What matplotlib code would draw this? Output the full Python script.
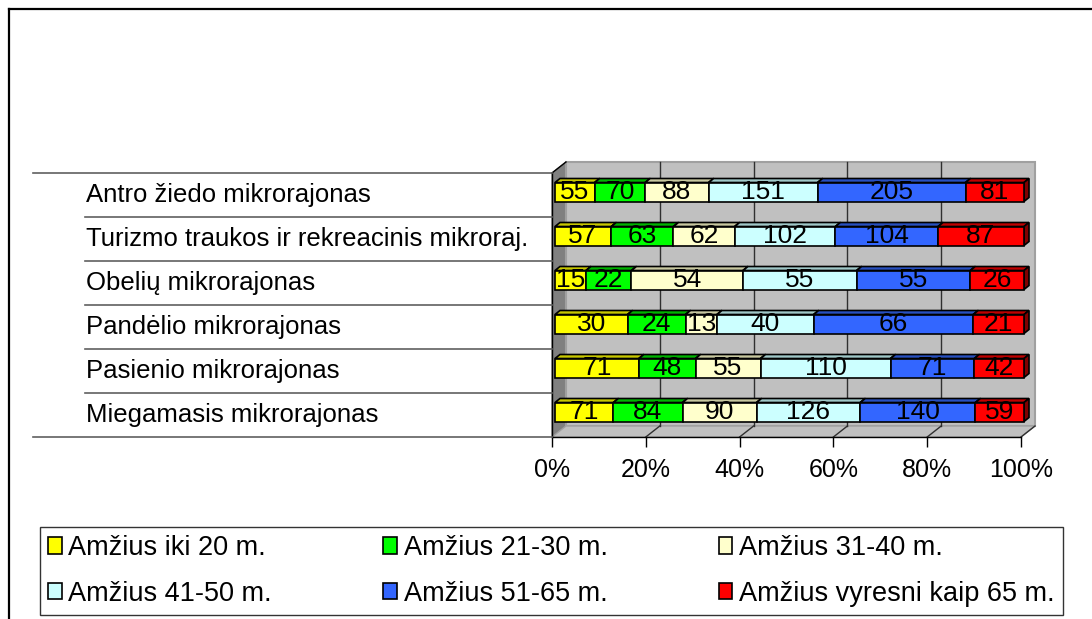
import numpy as np
import matplotlib
matplotlib.use("Agg")
import matplotlib.pyplot as plt
from matplotlib.patches import Polygon, Patch
from matplotlib.lines import Line2D
from matplotlib.transforms import blended_transform_factory

plt.rcParams["font.family"] = ["Liberation Sans", "DejaVu Sans"]

# data (bottom to top)
districts = ["Miegamasis mikrorajonas", "Pasienio mikrorajonas", "Pandėlio mikrorajonas",
             "Obelių mikrorajonas", "Turizmo traukos ir rekreacinis mikroraj.",
             "Antro žiedo mikrorajonas"]
age_groups = ["Amžius iki 20 m.", "Amžius 21-30 m.", "Amžius 31-40 m.",
              "Amžius 41-50 m.", "Amžius 51-65 m.", "Amžius vyresni kaip 65 m."]
iki20 = [71, 71, 30, 15, 57, 55]
m21_30 = [84, 48, 24, 22, 63, 70]
m31_40 = [90, 55, 13, 54, 62, 88]
m41_50 = [126, 110, 40, 55, 102, 151]
m51_65 = [140, 71, 66, 55, 104, 205]
virs65 = [59, 42, 21, 26, 87, 81]
tick_vals = [0, 20, 40, 60, 80, 100]

front_cols = ["#FFFF00", "#00FF00", "#FFFFCC", "#CCFFFF", "#3366FF", "#FF0000"]
top_cols = ["#C8C800", "#00B400", "#C8C8A0", "#A0C8C8", "#2850C0", "#C00000"]
side_cols = ["#9A9A00", "#008000", "#9A9A7A", "#7A9A9A", "#1E3C90", "#800000"]

W, H = 1092, 619
fig = plt.figure(figsize=(W / 100, H / 100), dpi=100)
fig.patch.set_facecolor("white")

ax_l, ax_r, ax_t, ax_b = 552, 1021, 173, 437
ax = fig.add_axes([ax_l / W, 1 - ax_b / H, (ax_r - ax_l) / W, (ax_b - ax_t) / H])
ax.set_xlim(0, 100)
ax.set_ylim(-0.5, len(districts) - 0.5)
ax.set_facecolor("none")
sx = (ax_r - ax_l) / 100.0
sy = (ax_b - ax_t) / len(districts)

# depth of walls and bars in data units
wdx, wdy = 14 / sx, 11 / sy
bdx, bdy = 5 / sx, 4 / sy
box, boy = 3 / sx, 3 / sy
bh = 19 / sy

y0, y1 = -0.5, len(districts) - 0.5
# walls and floor
ax.add_patch(Polygon([(0, y0), (0, y1), (wdx, y1 + wdy), (wdx, y0 + wdy)],
                     closed=True, fc="#808080", ec="#808080", lw=1, clip_on=False, zorder=1))
ax.add_patch(Polygon([(wdx, y0 + wdy), (wdx, y1 + wdy), (100 + wdx, y1 + wdy), (100 + wdx, y0 + wdy)],
                     closed=True, fc="#C0C0C0", ec="#A0A0A0", lw=1.5, clip_on=False, zorder=1))
ax.add_patch(Polygon([(0, y0), (100, y0), (100 + wdx, y0 + wdy), (wdx, y0 + wdy)],
                     closed=True, fc="#C0C0C0", ec="#A0A0A0", lw=1, clip_on=False, zorder=1))
for v in tick_vals[1:-1]:
    ax.plot([v + wdx, v + wdx], [y0 + wdy, y1 + wdy], color="#303030", lw=1, clip_on=False, zorder=2)
for v in tick_vals[1:]:
    ax.plot([v, v + wdx], [y0, y0 + wdy], color="#303030", lw=1, clip_on=False, zorder=2)
ax.plot([0, 0], [y0, y1], color="black", lw=1, clip_on=False, zorder=3)
ax.plot([0, wdx], [y1, y1 + wdy], color="black", lw=1, clip_on=False, zorder=3)

# bars
series = np.array([iki20, m21_30, m31_40, m41_50, m51_65, virs65], dtype=float)
pct = series / series.sum(axis=0) * 100
for i in range(len(districts)):
    left = 0.0
    yc = i + boy
    yb, yt = yc - bh / 2, yc + bh / 2
    for j in range(len(age_groups)):
        w = pct[j, i]
        l = left + box
        ax.add_patch(Polygon([(l, yt), (l + w, yt), (l + w + bdx, yt + bdy), (l + bdx, yt + bdy)],
                             closed=True, fc=top_cols[j], ec="black", lw=1.2, clip_on=False, zorder=4))
        ax.add_patch(Polygon([(l + w, yb), (l + w, yt), (l + w + bdx, yt + bdy), (l + w + bdx, yb + bdy)],
                             closed=True, fc=side_cols[j], ec="black", lw=1.2, clip_on=False, zorder=4))
        ax.barh(yc, w, left=l, height=bh, color=front_cols[j], edgecolor="black",
                linewidth=1.2, zorder=5, clip_on=False)
        ax.text(l + w / 2, yc, f"{int(series[j, i])}", ha="center", va="center",
                fontsize=19, color="black", zorder=6)
        left += w

# axis
ax.set_xticks(tick_vals)
ax.set_xticklabels([f"{v}%" for v in tick_vals], fontsize=18)
ax.tick_params(axis="x", length=7.2, width=1, pad=8, color="black")
ax.set_yticks([])
for s in ["left", "right", "top"]:
    ax.spines[s].set_visible(False)
ax.spines["bottom"].set_linewidth(1)
ax.spines["bottom"].set_zorder(3)

# category table
tr = blended_transform_factory(fig.transFigure, ax.transData)
for i, name in enumerate(districts):
    ax.text(86 / W, i, name, transform=tr, ha="left", va="center", fontsize=18.5)
for k in range(len(districts) + 1):
    x_start = 33 if k in (0, len(districts)) else 85
    fig.add_artist(Line2D([x_start / W, ax_l / W], [k - 0.5, k - 0.5], color="#606060",
                          lw=1.2, transform=tr))

# legend (row-wise order)
handles = [Patch(facecolor=c, edgecolor="black", linewidth=1.2) for c in front_cols]
order = [0, 3, 1, 4, 2, 5]
lx0, lx1, ly0, ly1 = 40, 1063, 527, 615
leg = fig.legend([handles[k] for k in order], [age_groups[k] for k in order],
                 loc="upper left", ncol=3, mode="expand",
                 bbox_to_anchor=(lx0 / W, 1 - ly1 / H, (lx1 - lx0) / W, (ly1 - ly0) / H),
                 frameon=True, fancybox=False, fontsize=19.5, handlelength=0.5,
                 handleheight=0.55, handletextpad=0.25, labelspacing=0.72,
                 borderpad=0.3, borderaxespad=0)
leg.get_frame().set_edgecolor("black")
leg.get_frame().set_linewidth(1)

# outer frame (left and top)
fig.add_artist(Line2D([9 / W, 9 / W], [0, 1 - 9 / H], color="black", lw=1.6))
fig.add_artist(Line2D([9 / W, 1], [1 - 9 / H, 1 - 9 / H], color="black", lw=1.6))

fig.savefig("out.png", dpi=100)
